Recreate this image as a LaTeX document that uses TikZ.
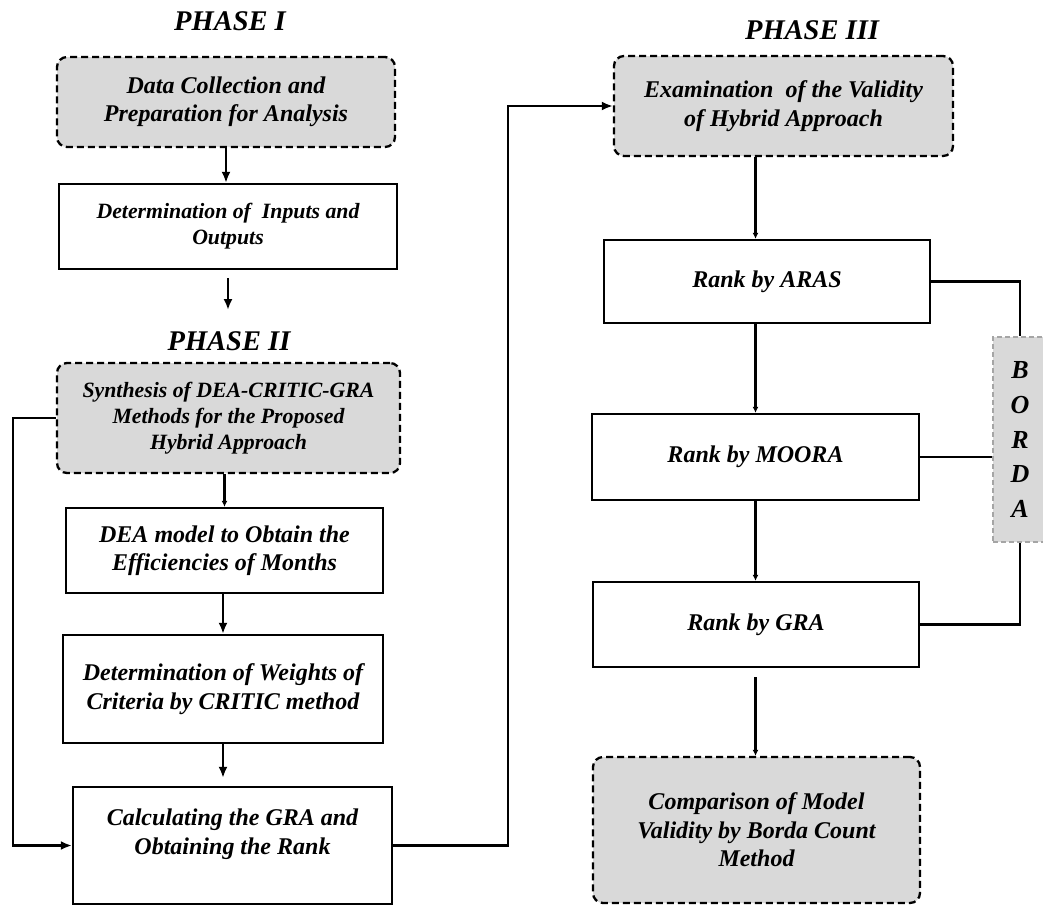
\documentclass[tikz,border=0pt]{standalone}
\usepackage{fontspec}
\setmainfont{Liberation Serif}
\usetikzlibrary{arrows.meta}
\definecolor{boxgray}{RGB}{217,217,217}
\definecolor{bordaline}{RGB}{165,165,165}
\begin{document}
\begin{tikzpicture}[x=1pt,y=-1pt,
  txt/.style={font=\fontsize{24}{28.5}\selectfont\bfseries\itshape, align=center, inner sep=0pt},
  smalltxt/.style={font=\fontsize{21.8}{26}\selectfont\bfseries\itshape},
  plainbox/.style={txt, draw, line width=2.3pt, rectangle},
  dashbox/.style={txt, draw, fill=boxgray, line width=2.3pt, rounded corners=10pt, dash pattern=on 7pt off 4pt},
  bordabox/.style={draw=bordaline, fill=boxgray, line width=1.2pt, dash pattern=on 5pt off 3pt,
     font=\fontsize{26}{34.6}\selectfont\bfseries\itshape, align=center, inner sep=0pt},
  phasetitle/.style={font=\fontsize{28.5}{32}\selectfont\bfseries\itshape, inner sep=0pt},
  conn/.style={line width=2.2pt},
  arrL/.style={conn, -{Latex[length=11pt,width=9pt]}},
  arrR/.style={conn, -{Latex[length=6pt,width=6pt]}},
]
\useasboundingbox (0,0) rectangle (1043,906);

% phase titles
\node[phasetitle] (ph1) at (230,21) {PHASE I};
\node[phasetitle] (ph2) at (229,341) {PHASE II};
\node[phasetitle] (ph3) at (812,30) {PHASE III};

% left column
\node[dashbox, minimum width=338pt, minimum height=90pt] (dc) at (226,102)
  {Data Collection and\\Preparation for Analysis};
\node[plainbox, smalltxt, minimum width=338pt, minimum height=85pt] (dio) at (228,226.5)
  {Determination of\ \ Inputs and\\Outputs};
\node[dashbox, smalltxt, minimum width=343pt, minimum height=110pt] (syn) at (228.5,418)
  {Synthesis of DEA-CRITIC-GRA\\Methods for the Proposed\\Hybrid Approach};
\node[plainbox, minimum width=317pt, minimum height=85pt] (dea) at (224.5,550.5)
  {DEA model to Obtain the\\Efficiencies of Months};
\node[plainbox, minimum width=320pt, minimum height=108pt] (crit) at (223,689)
  {Determination of Weights of\\Criteria by CRITIC method};
\node[plainbox, minimum width=319pt, minimum height=117pt] (calc) at (232.5,845.5) {};
\node[txt] (calct) at (232.5,834) {Calculating the GRA and\\Obtaining the Rank};

% right column
\node[dashbox, minimum width=339pt, minimum height=100pt] (exam) at (783.5,106)
  {Examination\ \ of the Validity\\of Hybrid Approach};
\node[plainbox, minimum width=326pt, minimum height=83pt] (aras) at (767,281.5) {Rank by ARAS};
\node[plainbox, minimum width=327pt, minimum height=86pt] (moora) at (755.5,457) {Rank by MOORA};
\node[plainbox, minimum width=326pt, minimum height=85pt] (gra) at (756,624.5) {Rank by GRA};
\node[dashbox, minimum width=327pt, minimum height=146pt] (comp) at (756.5,830)
  {Comparison of Model\\Validity by Borda Count\\Method};
\node[bordabox, minimum width=54pt, minimum height=205pt] (borda) at (1020,439.5)
  {B\\O\\R\\D\\A};

% connectors left column
\coordinate (tip2) at (227,310);
\draw[arrL] (dc.south) -- (dc.south |- dio.north);
\draw[arrL] ([yshift=-8pt]dio.south) -- (dio.south |- tip2);
\draw[arrR] (dea.north |- syn.south) -- (dea.north);
\draw[arrL] (crit.north |- dea.south) -- (crit.north);
\draw[arrL] (crit.south) -- ([yshift=8pt]crit.south |- calc.north);
\coordinate (loopx) at (13,0);
\draw[arrL] (syn.west) -- (loopx |- syn.west) -- (loopx |- calc.west) -- (calc.west);
\coordinate (bridgex) at (508,0);
\draw[arrL] (calc.east) -- (bridgex |- calc.east) -- (bridgex |- exam.west) -- (exam.west);

% connectors right column
\draw[arrR] (moora.north |- exam.south) -- (moora.north |- aras.north);
\draw[arrR] (moora.north |- aras.south) -- (moora.north);
\draw[arrR] (moora.south) -- (moora.south |- gra.north);
\draw[arrR] ([yshift=-9pt]moora.south |- gra.south) -- (moora.south |- comp.north);

% BORDA links
\draw[conn] (aras.east) -- (borda.north |- aras.east) -- (borda.north);
\draw[conn] (moora.east) -- (borda.west |- moora.east);
\draw[conn] (gra.east) -- (borda.south |- gra.east) -- (borda.south);
\end{tikzpicture}
\end{document}
